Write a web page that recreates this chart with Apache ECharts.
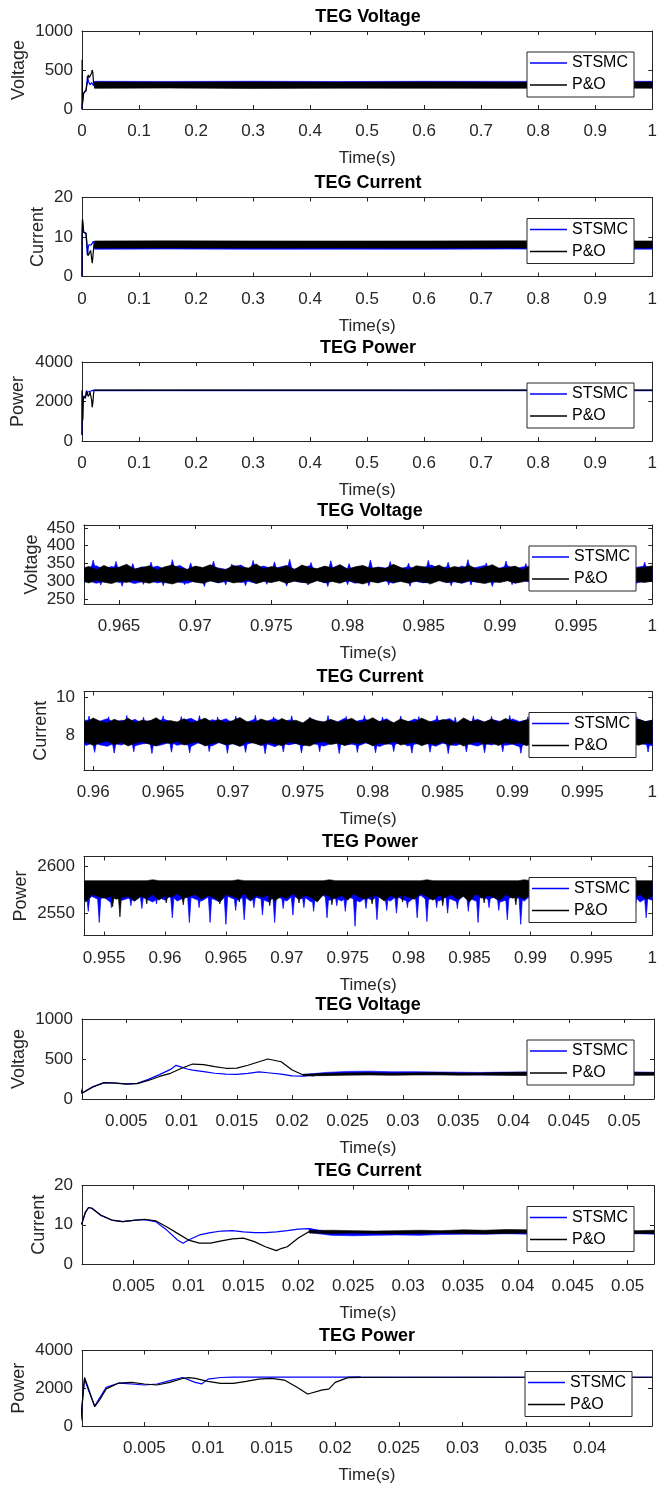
<!DOCTYPE html>
<html>
<head>
<meta charset="utf-8">
<script src="https://cdn.jsdelivr.net/npm/echarts@6/dist/echarts.min.js"></script>
<style>
html,body{margin:0;padding:0;background:#fff}
#chart{width:660px;height:1485px}
</style>
</head>
<body>
<div id="chart"></div>
<script>
// ---------------- data ----------------
const methods = ['STSMC', 'P&O'];
const panelTitles = ['TEG Voltage', 'TEG Current', 'TEG Power'];
const quantityNames = ['Voltage', 'Current', 'Power'];

// tick labels
const fullRunTicks = [0, 0.1, 0.2, 0.3, 0.4, 0.5, 0.6, 0.7, 0.8, 0.9, 1];
const voltTailTicksX = [0.965, 0.97, 0.975, 0.98, 0.985, 0.99, 0.995, 1];
const currTailTicksX = [0.96, 0.965, 0.97, 0.975, 0.98, 0.985, 0.99, 0.995, 1];
const powTailTicksX = [0.955, 0.96, 0.965, 0.97, 0.975, 0.98, 0.985, 0.99, 0.995, 1];
const startTicksX = [0.005, 0.01, 0.015, 0.02, 0.025, 0.03, 0.035, 0.04, 0.045, 0.05];
const powStartTicksX = [0.005, 0.01, 0.015, 0.02, 0.025, 0.03, 0.035, 0.04];
const voltTicks = [0, 500, 1000];
const currTicks = [0, 10, 20];
const powTicks = [0, 2000, 4000];
const voltTailTicks = [250, 300, 350, 400, 450];
const currTailTicks = [8, 10];
const powTailTicks = [2550, 2600];

// start-up transient [t, value]
const voltStsmcStart = [[0,0],[0.0003,60],[0.001,75],[0.002,155],[0.003,205],[0.004,200],[0.005,188],[0.006,195],[0.007,245],[0.008,305],[0.009,370],[0.0095,421],[0.010,398],[0.0105,375],[0.011,362],[0.012,342],[0.013,322],[0.014,310],[0.015,309],[0.016,321],[0.017,340],[0.018,325],[0.019,310],[0.020,290],[0.021,287],[0.022,300]];
const voltPoStart = [[0,0],[0.0002,630],[0.0006,250],[0.001,72],[0.002,150],[0.003,205],[0.004,198],[0.005,187],[0.006,193],[0.007,232],[0.008,282],[0.009,321],[0.010,384],[0.011,437],[0.012,429],[0.013,404],[0.014,384],[0.015,385],[0.016,422],[0.017,466],[0.0178,500],[0.019,466],[0.020,362],[0.021,300],[0.022,290]];
const currStsmcStart = [[0,0],[0.0001,10],[0.0003,10.4],[0.0006,13],[0.0009,14.4],[0.0012,14.2],[0.002,12.4],[0.003,11.2],[0.004,10.8],[0.005,11.1],[0.006,11.3],[0.007,10.8],[0.008,8.7],[0.009,6.1],[0.0095,5.3],[0.010,6.1],[0.011,7.4],[0.012,8.0],[0.013,8.4],[0.014,8.5],[0.015,8.2],[0.016,8.0],[0.017,8.0],[0.018,8.2],[0.019,8.5],[0.020,8.9],[0.021,9.0],[0.022,8.3]];
const currPoStart = [[0,0],[0.0001,10],[0.0003,10.4],[0.0006,13.2],[0.0009,14.4],[0.0012,14.2],[0.002,12.5],[0.003,11.2],[0.004,10.8],[0.005,11.1],[0.006,11.4],[0.007,11.0],[0.008,9.5],[0.009,7.8],[0.010,6.1],[0.011,5.3],[0.012,5.3],[0.013,5.9],[0.014,6.4],[0.015,6.6],[0.016,5.7],[0.017,4.4],[0.018,3.4],[0.0185,4.0],[0.019,4.4],[0.020,6.6],[0.021,8.3],[0.022,8.5]];
const powStsmcStart = [[0,300],[0.0003,2500],[0.0006,1900],[0.0011,1060],[0.0015,1500],[0.002,2053],[0.003,2276],[0.004,2224],[0.005,2173],[0.006,2224],[0.007,2400],[0.008,2570],[0.009,2312],[0.0095,2230],[0.010,2483],[0.011,2570],[0.012,2590],[0.022,2585]];
const powPoStart = [[0,300],[0.0003,2570],[0.0006,2000],[0.0011,1020],[0.0015,1400],[0.002,1966],[0.003,2276],[0.004,2312],[0.005,2224],[0.006,2173],[0.007,2312],[0.008,2519],[0.0085,2560],[0.009,2519],[0.010,2364],[0.011,2260],[0.012,2260],[0.013,2364],[0.014,2483],[0.015,2519],[0.016,2433],[0.017,2053],[0.0178,1707],[0.018,1720],[0.019,1914],[0.0195,1950],[0.020,2312],[0.021,2560],[0.022,2578]];

// full-run ripple envelopes (0.022 .. 1 s)
const fullRunT = [0.022, 0.15, 0.3, 0.45, 0.6, 0.75, 0.9, 1.0];
const voltStsmcFullLo = [275, 277, 274, 278, 276, 275, 277, 276];
const voltStsmcFullHi = [355, 353, 356, 352, 355, 354, 353, 355];
const voltPoFullLo = [265, 268, 264, 267, 266, 265, 268, 266];
const voltPoFullHi = [345, 343, 346, 342, 345, 344, 343, 345];
const currStsmcFullLo = [6.9, 6.95, 6.9, 6.92, 6.9, 6.94, 6.9, 6.92];
const currStsmcFullHi = [8.6, 8.6, 8.62, 8.6, 8.58, 8.6, 8.62, 8.6];
const currPoFullLo = [7.2, 7.22, 7.2, 7.24, 7.2, 7.22, 7.2, 7.22];
const currPoFullHi = [9.0, 9.02, 9.0, 8.98, 9.0, 9.02, 9.0, 9.0];
const powStsmcFullLo = [2540, 2542, 2540, 2541, 2540, 2542, 2540, 2541];
const powStsmcFullHi = [2580, 2580, 2581, 2580, 2580, 2581, 2580, 2580];
const powPoFullLo = [2555, 2556, 2555, 2557, 2555, 2556, 2555, 2556];
const powPoFullHi = [2590, 2590, 2591, 2590, 2590, 2591, 2590, 2590];

// end-of-run voltage ripple envelopes
const voltTailT = [
  0.9625,0.963,0.9635,0.964,0.9645,0.965,0.9655,0.966,0.9665,0.967,
  0.9675,0.968,0.9685,0.969,0.9695,0.97,0.9705,0.971,0.9715,0.972,
  0.9725,0.973,0.9735,0.974,0.9745,0.975,0.9755,0.976,0.9765,0.977,
  0.9775,0.978,0.9785,0.979,0.9795,0.98,0.9805,0.981,0.9815,0.982,
  0.9825,0.983,0.9835,0.984,0.9845,0.985,0.9855,0.986,0.9865,0.987,
  0.9875,0.988,0.9885,0.989,0.9895,0.99,0.9905,0.991,0.9915,0.992,
  0.9925,0.993,0.9935,0.994,0.9945,0.995,0.9955,0.996,0.9965,0.997,
  0.9975,0.998,0.9985,0.999,0.9995,1.0];
const voltStsmcTailHi = [
  336,340,344,334,342,338,346,333,341,337,
  343,335,339,345,332,340,336,344,338,334,
  341,346,333,339,343,336,340,345,335,338,
  344,332,341,337,346,335,339,343,333,340,
  338,345,336,342,334,339,346,337,341,333,
  343,336,340,345,332,338,344,335,341,339,
  334,342,338,346,336,340,333,344,337,341,
  339,345,335,340,343,336];
const voltStsmcTailLo = [
  298,302,295,300,304,297,301,294,299,303,
  296,300,304,297,295,302,299,303,296,300,
  303,297,300,295,302,298,304,296,301,297,
  299,304,296,301,297,303,295,300,302,298,
  301,295,303,298,300,296,302,304,297,299,
  295,301,298,303,297,300,304,296,302,298,
  300,296,302,299,304,297,301,295,303,299,
  297,302,299,296,301,303];
const voltPoTailHi = [
  338,342,333,345,336,340,348,335,339,344,
  332,341,346,337,334,343,339,347,336,333,
  345,340,338,349,335,342,337,344,333,346,
  339,336,343,338,347,334,341,345,337,340,
  336,348,339,333,344,341,337,346,335,342,
  338,345,334,340,347,336,339,343,333,346,
  340,337,344,338,335,348,341,336,343,339,
  345,334,342,337,340,344];
const voltPoTailLo = [
  300,296,303,298,294,301,297,304,299,295,
  302,297,293,300,304,298,295,301,297,303,
  296,299,304,294,300,297,302,295,301,298,
  294,302,297,300,295,303,298,293,300,296,
  303,297,300,295,301,298,294,302,297,300,
  296,303,298,294,300,297,302,295,299,304,
  297,300,294,301,298,295,303,297,300,296,
  302,298,295,300,297,301];
// STSMC voltage ripple peaks (tip values, rising from the band centre)
const voltTailRoot = 320;
const voltStsmcSpikeT = [
  0.9633,0.9648,0.9659,0.9671,0.9685,0.9697,0.9712,0.9724,0.9738,0.9752,
  0.9762,0.9776,0.9789,0.9801,0.9815,0.9828,0.984,0.9853,0.9866,0.9879,
  0.9891,0.9904,0.9917,0.993,0.9943,0.9956,0.9969,0.9982,0.9995,
  0.9638,0.9652,0.9666,0.9679,0.9693,0.9706,0.972,0.9733,0.9747,0.976,
  0.9774,0.9787,0.98,0.9814,0.9827,0.9841,0.9854,0.9868,0.9881,0.9895,
  0.9908,0.9922,0.9935,0.9949,0.9962,0.9976,0.9989];
const voltStsmcSpikeV = [
  360,356,350,354,361,352,357,349,359,355,
  362,353,358,350,360,356,351,359,354,361,
  352,357,350,358,355,361,352,357,354,
  290,287,292,288,291,286,290,288,292,287,
  290,286,291,288,290,287,292,288,290,286,
  291,288,290,287,291,288,290];

// end-of-run current ripple envelopes
const currTailT = [
  0.959,0.9595,0.96,0.9605,0.961,0.9615,0.962,0.9625,0.963,0.9635,
  0.964,0.9645,0.965,0.9655,0.966,0.9665,0.967,0.9675,0.968,0.9685,
  0.969,0.9695,0.97,0.9705,0.971,0.9715,0.972,0.9725,0.973,0.9735,
  0.974,0.9745,0.975,0.9755,0.976,0.9765,0.977,0.9775,0.978,0.9785,
  0.979,0.9795,0.98,0.9805,0.981,0.9815,0.982,0.9825,0.983,0.9835,
  0.984,0.9845,0.985,0.9855,0.986,0.9865,0.987,0.9875,0.988,0.9885,
  0.989,0.9895,0.99,0.9905,0.991,0.9915,0.992,0.9925,0.993,0.9935,
  0.994,0.9945,0.995,0.9955,0.996,0.9965,0.997,0.9975,0.998,0.9985,
  0.999,0.9995,1.0];
const currStsmcTailHi = [
  8.70,8.82,8.64,8.76,8.88,8.67,8.80,8.72,8.85,8.62,
  8.78,8.69,8.86,8.74,8.63,8.81,8.90,8.71,8.66,8.83,
  8.75,8.88,8.65,8.79,8.70,8.84,8.62,8.77,8.89,8.68,
  8.81,8.73,8.64,8.87,8.76,8.69,8.83,8.72,8.90,8.66,
  8.78,8.85,8.67,8.74,8.88,8.63,8.80,8.71,8.86,8.75,
  8.68,8.82,8.77,8.89,8.64,8.79,8.72,8.85,8.70,8.83,
  8.76,8.65,8.87,8.73,8.81,8.69,8.90,8.74,8.66,8.84,
  8.79,8.71,8.86,8.63,8.78,8.88,8.70,8.82,8.75,8.67,
  8.85,8.72,8.80];
const currStsmcTailLo = [
  7.55,7.48,7.62,7.51,7.44,7.58,7.50,7.64,7.47,7.56,
  7.60,7.45,7.53,7.66,7.49,7.57,7.43,7.61,7.52,7.46,
  7.63,7.50,7.58,7.44,7.55,7.65,7.48,7.54,7.42,7.60,
  7.51,7.59,7.46,7.62,7.53,7.45,7.57,7.64,7.49,7.55,
  7.47,7.61,7.52,7.43,7.58,7.50,7.66,7.46,7.54,7.62,
  7.56,7.44,7.60,7.51,7.48,7.63,7.53,7.45,7.59,7.50,
  7.62,7.49,7.55,7.42,7.57,7.64,7.47,7.58,7.52,7.45,
  7.54,7.61,7.46,7.59,7.50,7.44,7.63,7.51,7.56,7.48,
  7.60,7.53,7.47];
const currPoTailHi = [
  8.78,8.70,8.92,8.74,8.66,8.85,8.72,8.90,8.68,8.80,
  8.74,8.93,8.69,8.78,8.71,8.88,8.66,8.76,8.91,8.70,
  8.83,8.67,8.79,8.94,8.72,8.68,8.86,8.75,8.70,8.89,
  8.73,8.80,8.66,8.92,8.77,8.71,8.84,8.69,8.79,8.90,
  8.68,8.76,8.93,8.72,8.81,8.67,8.87,8.74,8.70,8.91,
  8.75,8.69,8.84,8.78,8.66,8.92,8.73,8.80,8.71,8.86,
  8.70,8.89,8.74,8.68,8.82,8.77,8.93,8.69,8.75,8.85,
  8.72,8.90,8.67,8.79,8.74,8.88,8.70,8.83,8.76,8.71,
  8.86,8.73,8.80];
const currPoTailLo = [
  7.58,7.66,7.48,7.62,7.70,7.52,7.64,7.46,7.60,7.68,
  7.55,7.47,7.63,7.58,7.69,7.50,7.61,7.66,7.45,7.59,
  7.64,7.52,7.57,7.44,7.67,7.60,7.49,7.62,7.56,7.47,
  7.66,7.58,7.51,7.45,7.63,7.68,7.53,7.60,7.48,7.62,
  7.57,7.65,7.46,7.61,7.54,7.69,7.50,7.59,7.64,7.47,
  7.60,7.52,7.66,7.49,7.63,7.45,7.58,7.67,7.53,7.61,
  7.48,7.64,7.56,7.62,7.47,7.59,7.66,7.51,7.60,7.46,
  7.63,7.55,7.68,7.50,7.61,7.48,7.65,7.57,7.52,7.62,
  7.49,7.60,7.58];
const currTailRoot = 8.15;
const currStsmcSpikeT = [
  0.9597,0.9611,0.9624,0.9636,0.965,0.9663,0.9676,0.9689,0.9702,0.9716,
  0.9729,0.9742,0.9755,0.9768,0.9781,0.9794,0.9807,0.982,0.9833,0.9846,
  0.9859,0.9872,0.9885,0.9898,0.9911,0.9924,0.9937,0.995,0.9963,0.9976,0.9989,
  0.9601,0.9615,0.9629,0.9642,0.9656,0.9669,0.9683,0.9696,0.9709,0.9723,
  0.9736,0.9749,0.9762,0.9776,0.9789,0.9802,0.9815,0.9828,0.9841,0.9854,
  0.9867,0.988,0.9893,0.9906,0.9919,0.9932,0.9945,0.9958,0.9971,0.9984,0.9997];
const currStsmcSpikeV = [
  9.02,8.98,9.05,8.96,9.03,8.99,9.04,8.97,9.02,9.06,
  8.98,9.03,8.96,9.04,9.00,9.05,8.97,9.02,8.99,9.04,
  8.96,9.03,9.00,9.05,8.98,9.02,8.97,9.04,8.99,9.03,8.98,
  7.12,7.08,7.15,7.06,7.13,7.09,7.16,7.07,7.12,7.05,
  7.14,7.09,7.15,7.06,7.12,7.10,7.16,7.08,7.13,7.06,
  7.14,7.10,7.15,7.07,7.12,7.09,7.16,7.08,7.13,7.10,7.14];

// end-of-run power ripple envelopes
const powTailT = [
  0.953,0.9535,0.954,0.9545,0.955,0.9555,0.956,0.9565,0.957,0.9575,
  0.958,0.9585,0.959,0.9595,0.96,0.9605,0.961,0.9615,0.962,0.9625,
  0.963,0.9635,0.964,0.9645,0.965,0.9655,0.966,0.9665,0.967,0.9675,
  0.968,0.9685,0.969,0.9695,0.97,0.9705,0.971,0.9715,0.972,0.9725,
  0.973,0.9735,0.974,0.9745,0.975,0.9755,0.976,0.9765,0.977,0.9775,
  0.978,0.9785,0.979,0.9795,0.98,0.9805,0.981,0.9815,0.982,0.9825,
  0.983,0.9835,0.984,0.9845,0.985,0.9855,0.986,0.9865,0.987,0.9875,
  0.988,0.9885,0.989,0.9895,0.99,0.9905,0.991,0.9915,0.992,0.9925,
  0.993,0.9935,0.994,0.9945,0.995,0.9955,0.996,0.9965,0.997,0.9975,
  0.998,0.9985,0.999,0.9995,1.0];
const powStsmcTailHi = [
  2582,2583,2582,2581,2583,2582,2583,2581,2582,2583,
  2582,2583,2582,2581,2583,2582,2583,2581,2582,2583,
  2582,2583,2582,2581,2583,2582,2583,2581,2582,2583,
  2582,2583,2582,2581,2583,2582,2583,2581,2582,2583,
  2582,2583,2582,2581,2583,2582,2583,2581,2582,2583,
  2582,2583,2582,2581,2583,2582,2583,2581,2582,2583,
  2582,2583,2582,2581,2583,2582,2583,2581,2582,2583,
  2582,2583,2582,2581,2583,2582,2583,2581,2582,2583,
  2582,2583,2582,2581,2583,2582,2583,2581,2582,2583,
  2582,2583,2581,2582,2583];
const powStsmcTailLo = [
  2566,2563,2568,2565,2567,2562,2569,2564,2566,2563,
  2568,2565,2562,2567,2564,2569,2563,2566,2568,2565,
  2563,2567,2565,2562,2569,2566,2564,2568,2563,2567,
  2565,2562,2568,2566,2563,2569,2565,2567,2562,2566,
  2569,2564,2566,2563,2568,2565,2562,2567,2564,2569,
  2566,2563,2568,2565,2562,2567,2569,2564,2566,2563,
  2567,2565,2562,2569,2566,2563,2568,2565,2567,2562,
  2564,2568,2566,2563,2569,2565,2562,2567,2564,2566,
  2568,2563,2565,2569,2562,2566,2564,2568,2563,2567,
  2565,2569,2562,2566,2564];
const powPoTailHi = [
  2585,2585,2585,2585,2585,2585,2585,2585,2585,2585,
  2585,2585,2586,2585,2585,2585,2585,2585,2585,2585,
  2585,2585,2585,2585,2585,2585,2586,2585,2585,2585,
  2585,2585,2585,2585,2585,2585,2585,2585,2585,2585,
  2585,2586,2585,2585,2585,2585,2585,2585,2585,2585,
  2585,2585,2585,2585,2585,2585,2585,2586,2585,2585,
  2585,2585,2585,2585,2585,2585,2585,2585,2585,2585,
  2585,2585,2585,2586,2585,2585,2585,2585,2585,2585,
  2585,2585,2585,2585,2585,2585,2585,2585,2586,2585,
  2585,2585,2585,2585,2585];
const powPoTailLo = [
  2566,2562,2570,2568,2566,2568,2565,2567,2568,2563,
  2568,2566,2570,2564,2569,2567,2571,2566,2568,2570,
  2565,2569,2567,2562,2570,2568,2566,2571,2564,2569,
  2567,2570,2563,2568,2566,2571,2565,2569,2567,2562,
  2570,2568,2566,2569,2564,2571,2567,2565,2570,2568,
  2563,2569,2566,2570,2567,2565,2571,2568,2564,2569,
  2567,2570,2565,2568,2562,2571,2566,2569,2567,2564,
  2570,2566,2568,2565,2571,2567,2563,2569,2566,2570,
  2568,2564,2569,2567,2571,2565,2568,2566,2570,2563,
  2569,2567,2570,2565,2568];
const powTailRoot = 2572;
const powStsmcSpikeT = [
  0.9537,0.9546,0.9556,0.9572,0.9581,0.9593,0.9606,0.962,0.9628,0.9637,
  0.965,0.9658,0.9665,0.9673,0.968,0.969,0.9697,0.9705,0.9714,0.9722,
  0.9733,0.9741,0.9748,0.9756,0.9765,0.9774,0.9782,0.979,0.9799,0.9807,
  0.9815,0.9823,0.9832,0.984,0.9849,0.9857,0.9866,0.9874,0.9881,0.9892,
  0.99,0.9908,0.9917,0.9925,0.9934,0.9943,0.9951,0.996,0.9968,0.9977,
  0.9986,0.9995];
const powStsmcSpikeV = [
  2552,2540,2556,2558,2555,2560,2545,2540,2556,2540,
  2538,2553,2543,2556,2548,2540,2555,2548,2556,2552,
  2545,2558,2552,2536,2555,2543,2553,2550,2556,2545,
  2541,2556,2550,2555,2552,2540,2556,2553,2543,2538,
  2556,2552,2555,2550,2556,2548,2554,2552,2556,2550,
  2555,2545];
const powPoSpikeT = [0.9557,0.9563,0.9585,0.9601,0.9615,0.9645,0.9661,0.9686,0.971,0.9737,0.977,0.9795,0.9828,0.9862,0.9888,0.9912,0.994,0.9972];
const powPoSpikeV = [2557,2546,2560,2561,2559,2560,2562,2558,2561,2559,2560,2562,2558,2561,2559,2560,2562,2558];

// settling ripple envelopes (0.021 .. 0.053 s)
const settleT = [0.021,0.023,0.025,0.027,0.029,0.031,0.033,0.035,0.037,0.039,0.041,0.043,0.045,0.047,0.049,0.051,0.053];
const voltStsmcSettleLo = [292,305,310,312,308,306,304,305,300,302,300,303,300,304,302,300,302];
const voltStsmcSettleHi = [305,332,345,348,340,342,338,335,332,336,338,334,340,336,334,338,335];
const voltPoSettleLo = [290,292,298,300,296,300,302,298,300,296,294,296,292,296,298,296,298];
const voltPoSettleHi = [310,318,325,328,322,326,330,324,326,330,335,332,338,330,328,332,330];
const currStsmcSettleLo = [8.0,7.3,7.2,7.3,7.4,7.3,7.5,7.6,7.6,7.7,7.6,7.7,7.6,7.7,7.6,7.7,7.6];
const currStsmcSettleHi = [9.0,8.2,8.1,8.2,8.1,8.2,8.3,8.4,8.3,8.5,8.4,8.4,8.3,8.4,8.4,8.3,8.4];
const currPoSettleLo = [7.9,7.8,7.9,7.8,7.7,7.8,7.9,7.8,7.7,7.8,7.9,7.8,7.8,7.7,7.8,7.8,7.8];
const currPoSettleHi = [8.5,8.6,8.5,8.4,8.5,8.6,8.5,8.7,8.6,8.8,8.7,8.6,8.5,8.6,8.6,8.5,8.6];
const powStsmcSettleLo = [2570,2575,2576,2575,2576,2575,2576,2575,2576,2575,2576,2575,2576,2575,2576,2575,2576];
const powStsmcSettleHi = [2590,2592,2591,2592,2591,2592,2591,2592,2591,2592,2591,2592,2591,2592,2591,2592,2591];
const powPoSettleLo = [2565,2570,2571,2570,2571,2570,2571,2570,2571,2570,2571,2570,2571,2570,2571,2570,2571];
const powPoSettleHi = [2588,2590,2589,2590,2589,2590,2589,2590,2589,2590,2589,2590,2589,2590,2589,2590,2589];

// ---------------- drawing ----------------
const FONT = "'Liberation Sans', Arial, Helvetica, sans-serif";
const AXIS_COLOR = '#262626';
const BLUE = '#0000ff';
const BLACK = '#000000';

const panels = [
  {grid:{left:82, top:31, width:572, height:78}, q:0, x:[0,1], xt:fullRunTicks, y:[0,1000], yt:voltTicks, nameGap:54,
   starts:[voltStsmcStart, voltPoStart], bands:[[fullRunT, voltStsmcFullLo, voltStsmcFullHi],[fullRunT, voltPoFullLo, voltPoFullHi]]},
  {grid:{left:82, top:197.5, width:572, height:79}, q:1, x:[0,1], xt:fullRunTicks, y:[0,20], yt:currTicks, nameGap:35,
   starts:[currStsmcStart, currPoStart], bands:[[fullRunT, currStsmcFullLo, currStsmcFullHi],[fullRunT, currPoFullLo, currPoFullHi]]},
  {grid:{left:82, top:362, width:572, height:79}, q:2, x:[0,1], xt:fullRunTicks, y:[0,4000], yt:powTicks, nameGap:55,
   starts:[powStsmcStart, powPoStart], bands:[[fullRunT, powStsmcFullLo, powStsmcFullHi],[fullRunT, powPoFullLo, powPoFullHi]]},
  {grid:{left:84, top:525, width:572, height:79}, q:0, x:[0.9627,1], xt:voltTailTicksX, y:[237,458], yt:voltTailTicks, nameGap:43,
   starts:null, bands:[[voltTailT, voltStsmcTailLo, voltStsmcTailHi],[voltTailT, voltPoTailLo, voltPoTailHi]],
   spikes:[[voltStsmcSpikeT, voltStsmcSpikeV, voltTailRoot, 3.5], null]},
  {grid:{left:84, top:691.5, width:572, height:78.5}, q:1, x:[0.95934,1], xt:currTailTicksX, y:[6.2,10.3], yt:currTailTicks, nameGap:34,
   starts:null, bands:[[currTailT, currStsmcTailLo, currStsmcTailHi],[currTailT, currPoTailLo, currPoTailHi]],
   spikes:[[currStsmcSpikeT, currStsmcSpikeV, currTailRoot, 3.5], null]},
  {grid:{left:84, top:856.5, width:572, height:79}, q:2, x:[0.95335,1], xt:powTailTicksX, y:[2526,2611], yt:powTailTicks, nameGap:54,
   starts:null, bands:[[powTailT, powStsmcTailLo, powStsmcTailHi],[powTailT, powPoTailLo, powPoTailHi]],
   spikes:[[powStsmcSpikeT, powStsmcSpikeV, powTailRoot, 2], [powPoSpikeT, powPoSpikeV, powTailRoot, 1.8]]},
  {grid:{left:82, top:1019, width:572, height:80}, q:0, x:[0.001,0.0527], xt:startTicksX, y:[0,1000], yt:voltTicks, nameGap:54,
   starts:[voltStsmcStart, voltPoStart], bands:[[settleT, voltStsmcSettleLo, voltStsmcSettleHi],[settleT, voltPoSettleLo, voltPoSettleHi]]},
  {grid:{left:82, top:1185.5, width:572, height:78.5}, q:1, x:[0.0003,0.0524], xt:startTicksX, y:[0,20], yt:currTicks, nameGap:34,
   starts:[currStsmcStart, currPoStart], bands:[[settleT, currStsmcSettleLo, currStsmcSettleHi],[settleT, currPoSettleLo, currPoSettleHi]]},
  {grid:{left:82, top:1350.5, width:570, height:77.5}, q:2, x:[0.0001,0.0449], xt:powStartTicksX, y:[0,4000], yt:powTicks, nameGap:54,
   starts:[powStsmcStart, powPoStart], bands:[[settleT, powStsmcSettleLo, powStsmcSettleHi],[settleT, powPoSettleLo, powPoSettleHi]]}
];

const colors = [BLUE, BLACK];
const grids = [], xAxes = [], yAxes = [], titles = [], legends = [], series = [];

function axisCommon(ticks, withLabels) {
  return {
    type: 'value',
    axisLine: {show: true, onZero: false, lineStyle: {color: AXIS_COLOR, width: 1}},
    axisTick: {show: true, inside: true, length: 4, customValues: ticks, lineStyle: {color: AXIS_COLOR, width: 1}},
    axisLabel: {show: withLabels, customValues: ticks, fontSize: 17, color: AXIS_COLOR, fontFamily: FONT,
                formatter: v => String(v)},
    splitLine: {show: false}
  };
}

function lineSeries(name, color, pts, idx) {
  return {type: 'line', name, data: pts, xAxisIndex: idx, yAxisIndex: idx, symbol: 'none',
          lineStyle: {color, width: 1.2}, itemStyle: {color}, silent: true, animation: false};
}

// ripple envelope drawn as a filled polygon between the lower and upper bounds
function bandSeries(name, color, band, idx) {
  const [ts, lo, hi] = band;
  const rows = ts.map((t, i) => [t, lo[i], hi[i]]);
  return {
    type: 'custom', name, xAxisIndex: idx, yAxisIndex: idx, data: rows,
    encode: {x: 0, y: [1, 2]}, clip: true, silent: true, animation: false,
    itemStyle: {color},
    renderItem(params, api) {
      if (params.dataIndex !== 0) return null;
      const upper = rows.map(r => api.coord([r[0], r[2]]));
      const lower = rows.map(r => api.coord([r[0], r[1]])).reverse();
      const cs = params.coordSys;
      const pts = echarts.graphic.clipPointsByRect(upper.concat(lower),
        {x: cs.x, y: cs.y, width: cs.width, height: cs.height});
      return {type: 'polygon', shape: {points: pts},
              style: {fill: color, stroke: color, lineWidth: 0.6}};
    }
  };
}

// single switching spikes: a narrow wedge from the root value to the tip value
function spikeSeries(name, color, spec, idx) {
  const [ts, tips, root, halfW] = spec;
  return {
    type: 'custom', name, xAxisIndex: idx, yAxisIndex: idx, data: ts.map((t, i) => [t, tips[i]]),
    encode: {x: 0, y: 1}, clip: true, silent: true, animation: false,
    itemStyle: {color},
    renderItem(params, api) {
      const t = api.value(0);
      const tip = api.coord([t, api.value(1)]);
      const base = api.coord([t, root]);
      return {type: 'polygon',
              shape: {points: [[base[0] - halfW, base[1]], [tip[0], tip[1]], [base[0] + halfW, base[1]]]},
              style: {fill: color, stroke: color, lineWidth: 0.7}};
    }
  };
}

panels.forEach((p, i) => {
  const g = p.grid;
  grids.push({left: g.left, top: g.top, width: g.width, height: g.height, containLabel: false, show: false});

  const xb = axisCommon(p.xt, true);
  Object.assign(xb, {gridIndex: i, position: 'bottom', min: p.x[0], max: p.x[1],
    name: 'Time(s)', nameLocation: 'middle', nameGap: 41, nameMoveOverlap: false,
    nameTextStyle: {fontSize: 17, color: AXIS_COLOR, fontFamily: FONT}});
  xb.axisLabel.margin = 14;
  const xt = axisCommon(p.xt, false);
  Object.assign(xt, {gridIndex: i, position: 'top', min: p.x[0], max: p.x[1]});
  xAxes.push(xb, xt);

  const yl = axisCommon(p.yt, true);
  Object.assign(yl, {gridIndex: i, position: 'left', min: p.y[0], max: p.y[1],
    name: quantityNames[p.q], nameLocation: 'middle', nameGap: p.nameGap, nameRotate: 90, nameMoveOverlap: false,
    nameTextStyle: {fontSize: 18, color: AXIS_COLOR, fontFamily: FONT}});
  yl.axisLabel.margin = 9;
  const yr = axisCommon(p.yt, false);
  Object.assign(yr, {gridIndex: i, position: 'right', min: p.y[0], max: p.y[1]});
  yAxes.push(yl, yr);

  const ai = 2 * i;
  titles.push({text: panelTitles[p.q], left: g.left + g.width / 2, top: g.top - 23, textAlign: 'center', padding: 0,
    textStyle: {fontSize: 18, fontWeight: 'bold', color: '#000', fontFamily: FONT}});

  legends.push({
    left: g.left + g.width - 127, top: g.top + 21, orient: 'vertical',
    itemWidth: 37, itemHeight: 1.5, itemGap: 6, padding: [3, 6, 4, 3],
    borderColor: AXIS_COLOR, borderWidth: 1, backgroundColor: '#fff', borderRadius: 0,
    selectedMode: false, z: 10,
    textStyle: {fontSize: 16, color: '#000', fontFamily: FONT},
    data: methods.map((m, k) => ({name: m, icon: 'rect', itemStyle: {color: colors[k]}}))
  });

  methods.forEach((m, k) => {
    if (p.starts) series.push(lineSeries(m, colors[k], p.starts[k], ai));
  });
  methods.forEach((m, k) => {
    series.push(bandSeries(m, colors[k], p.bands[k], ai));
    if (p.spikes && p.spikes[k]) series.push(spikeSeries(m, colors[k], p.spikes[k], ai));
  });
});

const chart = echarts.init(document.getElementById('chart'), null, {renderer: 'canvas'});
chart.setOption({
  animation: false,
  backgroundColor: '#fff',
  title: titles,
  legend: legends,
  grid: grids,
  xAxis: xAxes,
  yAxis: yAxes,
  series: series
});
</script>
</body>
</html>
